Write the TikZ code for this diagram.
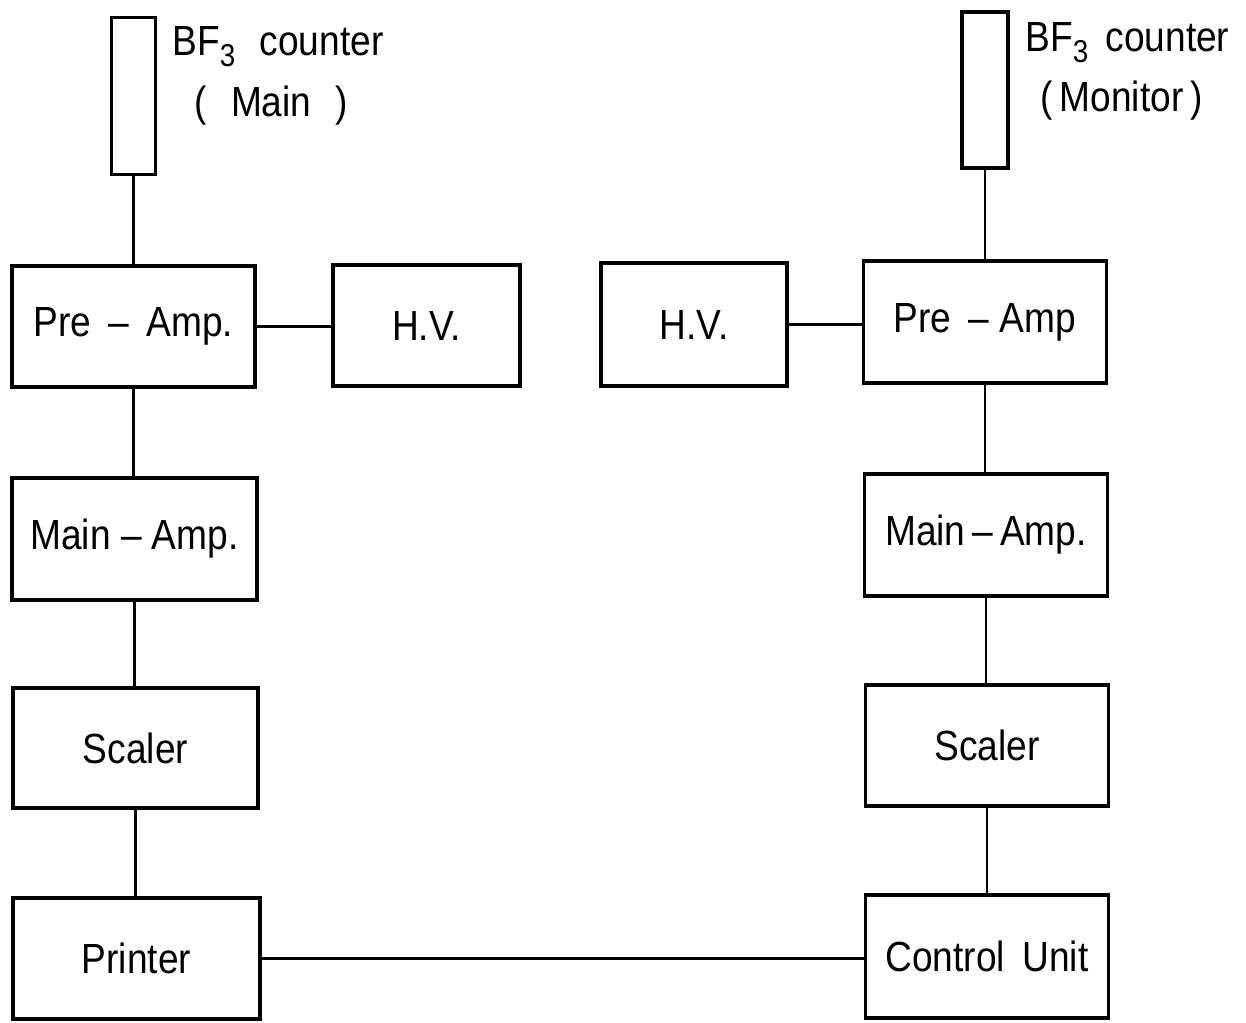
\documentclass[tikz,border=0pt]{standalone}
\usepackage{fontspec}
\setmainfont[FakeStretch=0.88]{Liberation Sans}
\newcommand\subthree{\raisebox{-0.5ex}{\fontsize{18}{18}\selectfont 3}}
\begin{document}
\begin{tikzpicture}[x=0.02cm,y=-0.02cm,
  blk/.style={draw, line width=1.8pt, inner sep=0pt, minimum width=4.86cm, minimum height=2.42cm,
    font=\fontsize{24}{26}\selectfont},
  tube/.style={draw, line width=1.8pt, inner sep=0pt, minimum width=0.88cm, minimum height=3.14cm},
  lbl/.style={font=\fontsize{24}{26}\selectfont, inner sep=0pt, anchor=west},
  conn/.style={line width=1.4pt}]
\useasboundingbox (0,0) rectangle (1246,1022);
% left column
\node[tube] (tubeL) at (133.5,96) {};
\node[blk] (preL) at (133.5,326.5) {Pre\, – \,Amp.};
\node[blk, minimum width=3.74cm] (hvL) at (426.5,325.5) {H.V.};
\node[blk, minimum width=4.9cm, minimum height=2.44cm] (mainL) at (134.5,539) {Main – Amp.};
\node[blk, minimum width=4.9cm, minimum height=2.4cm] (scalerL) at (135.5,748) {Scaler};
\node[blk, minimum width=4.94cm] (printer) at (136.5,958.5) {Printer};
% right column
\node[tube, minimum width=0.92cm, minimum height=3.12cm] (tubeR) at (985,90) {};
\node[blk, minimum width=3.72cm, minimum height=2.46cm] (hvR) at (694,324.5) {H.V.};
\node[blk, minimum height=2.44cm] (preR) at (985,322) {Pre\, – Amp};
\node[blk, minimum height=2.44cm] (mainR) at (986,535) {Main\,–\,Amp.};
\node[blk] (scalerR) at (987,745.5) {Scaler};
\node[blk, minimum height=2.46cm] (control) at (987,956.5) {Control\, Unit};
% labels
\node[lbl] (labL1) at (172,47) {BF\subthree\,\, counter};
\node[lbl] (labL2) at (194,106) {(\,\, Main\,\, )};
\node[lbl] (labR1) at (1025,43) {BF\subthree\, counter};
\node[lbl] (labR2) at (1040,101) {(\,Monitor\,)};
% connectors
\draw[conn] (tubeL.south) -- (tubeL.south |- preL.north);
\draw[conn] (preL.east) -- (preL.east -| hvL.west);
\draw[conn] (preL.south) -- (preL.south |- mainL.north);
\draw[conn] (mainL.south) -- (mainL.south |- scalerL.north);
\draw[conn] (scalerL.south) -- (scalerL.south |- printer.north);
\draw[conn] (tubeR.south) -- (tubeR.south |- preR.north);
\draw[conn] (hvR.east) -- (hvR.east -| preR.west);
\draw[conn] (preR.south) -- (preR.south |- mainR.north);
\draw[conn] (mainR.south) -- (mainR.south |- scalerR.north);
\draw[conn] (scalerR.south) -- (scalerR.south |- control.north);
\draw[conn] (printer.east) -- (printer.east -| control.west);
\end{tikzpicture}
\end{document}
